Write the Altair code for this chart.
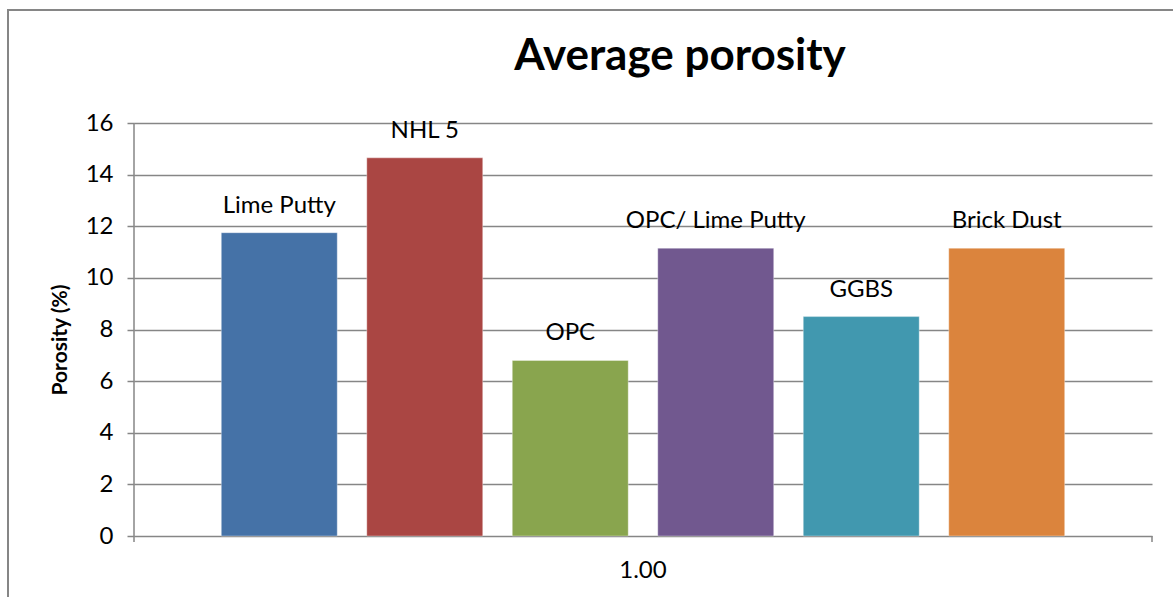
import altair as alt
import pandas as pd

# Average porosity per binder type
materials = ["Lime Putty", "NHL 5", "OPC", "OPC/ Lime Putty", "GGBS", "Brick Dust"]
porosity = [11.75, 14.65, 6.8, 11.15, 8.5, 11.15]
bar_colors = ["#4572A7", "#AA4643", "#89A54E", "#71588F", "#4198AF", "#DB843D"]
y_ticks = [0, 2, 4, 6, 8, 10, 12, 14, 16]
category_label = "1.00"
chart_title = "Average porosity"
y_title = "Porosity (%)"

FONT = "Lato"
GRAY = "#868686"
W, H = 1018, 413

df = pd.DataFrame({"material": materials, "porosity": porosity})
one = pd.DataFrame({"k": [0]})

x_enc = alt.X(
    "material:N",
    sort=materials,
    scale=alt.Scale(domain=materials, paddingInner=0.203, paddingOuter=0.6),
    axis=None,
)
y_enc = alt.Y(
    "porosity:Q",
    scale=alt.Scale(domain=[0, 16], nice=False),
    axis=alt.Axis(
        values=y_ticks,
        grid=True,
        gridColor=GRAY,
        gridWidth=1.5,
        domain=False,
        tickColor=GRAY,
        tickSize=7,
        tickWidth=1.5,
        labelFont=FONT,
        labelFontSize=24,
        labelColor="#000000",
        labelPadding=14,
        title=None,
    ),
)

bars = alt.Chart(df).mark_bar(stroke="#ffffff", strokeOpacity=0.35, strokeWidth=1).encode(
    x=x_enc,
    y=y_enc,
    color=alt.Color(
        "material:N",
        scale=alt.Scale(domain=materials, range=bar_colors),
        legend=None,
    ),
)

labels = alt.Chart(df).mark_text(
    font=FONT, fontSize=24, color="#000000", baseline="alphabetic", dy=-20
).encode(x=x_enc, y=alt.Y("porosity:Q"), text="material:N")

# left axis line, running slightly below zero
y_axis_line = alt.Chart(one).mark_rule(color=GRAY, strokeWidth=1.5).encode(
    x=alt.value(0), y=alt.value(0), y2=alt.value(H + 6)
)
# end tick of the category axis
x_end_tick = alt.Chart(one).mark_rule(color=GRAY, strokeWidth=1.5).encode(
    x=alt.value(W), y=alt.value(H), y2=alt.value(H + 6)
)

cat_text = alt.Chart(one).mark_text(
    font=FONT, fontSize=24, color="#000000", align="center", baseline="alphabetic"
).encode(x=alt.value(W / 2), y=alt.value(H + 42), text=alt.value(category_label))

title_text = alt.Chart(one).mark_text(
    font=FONT, fontSize=44, fontWeight="bold", color="#000000",
    align="center", baseline="alphabetic",
).encode(x=alt.value(546), y=alt.value(-53), text=alt.value(chart_title))

ytitle_text = alt.Chart(one).mark_text(
    font=FONT, fontSize=21, fontWeight="bold", color="#000000",
    align="center", baseline="alphabetic", angle=270,
).encode(x=alt.value(-67), y=alt.value(217), text=alt.value(y_title))

frame = alt.Chart(one).mark_rect(
    fill="#ffffff", fillOpacity=0, stroke=GRAY, strokeWidth=2
).encode(
    x=alt.value(-126), x2=alt.value(1080), y=alt.value(-113), y2=alt.value(500)
)

chart = (
    alt.layer(frame, bars, labels, y_axis_line, x_end_tick, cat_text, title_text, ytitle_text)
    .properties(
        width=W,
        height=H,
        autosize=alt.AutoSizeParams(type="none"),
        padding={"left": 134, "top": 123, "right": 21, "bottom": 61},
        background="#ffffff",
    )
    .configure_view(stroke=None)
)

chart.save("out.html", embed_options={"renderer": "svg", "actions": False})
